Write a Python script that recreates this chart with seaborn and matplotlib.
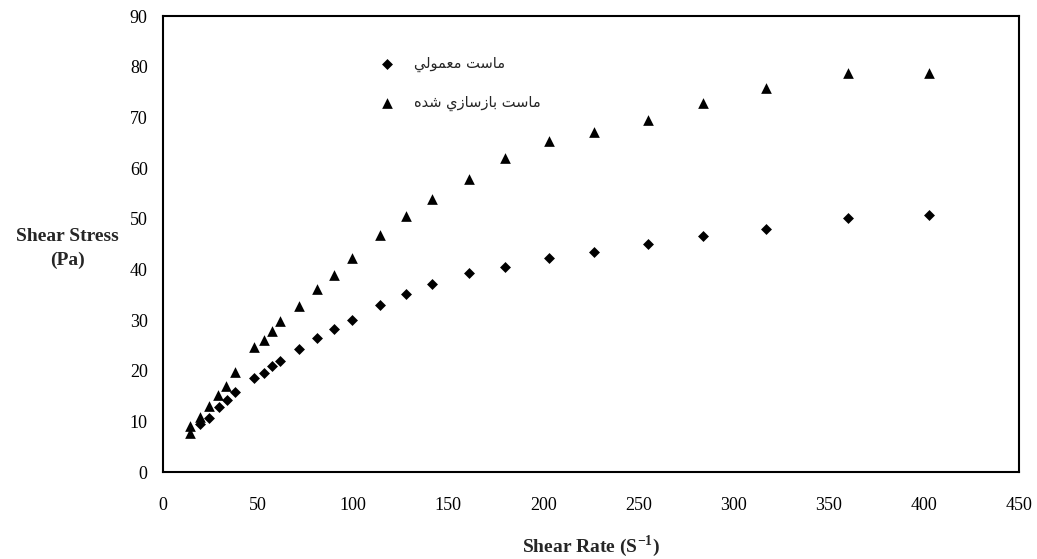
import matplotlib
matplotlib.use('Agg')
import matplotlib.pyplot as plt
import seaborn as sns
import pandas as pd

# Values
shear_rate_regular = [19.7, 24.0, 29.3, 33.6, 38.0, 47.8, 52.9, 57.4, 61.7, 71.5, 81.0, 89.7,
                      99.4, 113.9, 127.8, 141.4, 160.6, 179.6, 202.7, 226.8, 255.0, 283.9,
                      317.2, 360.1, 402.9]
stress_regular = [9.4, 10.7, 12.8, 14.3, 15.8, 18.6, 19.6, 21.0, 22.0, 24.3, 26.5, 28.3,
                  30.1, 32.9, 35.2, 37.1, 39.3, 40.4, 42.3, 43.5, 45.0, 46.5,
                  48.0, 50.2, 50.8]

shear_rate_recon = [14.4, 14.4, 19.7, 24.0, 28.9, 33.1, 38.0, 47.8, 52.9, 57.4, 61.7, 71.5,
                    81.0, 89.7, 99.4, 113.9, 127.8, 141.4, 160.6, 179.6, 202.7, 226.8,
                    255.0, 283.9, 317.2, 360.1, 402.9]
stress_recon = [7.7, 9.0, 10.9, 13.0, 15.2, 16.9, 19.7, 24.6, 26.0, 27.8, 29.8, 32.8,
                36.2, 38.9, 42.2, 46.8, 50.5, 53.8, 57.9, 62.0, 65.3, 67.1,
                69.5, 72.8, 75.8, 78.8, 78.8]

label_regular = 'ماست معمولي'
label_recon = 'ماست بازسازي شده'

x_ticks = [0, 50, 100, 150, 200, 250, 300, 350, 400, 450]
y_ticks = [0, 10, 20, 30, 40, 50, 60, 70, 80, 90]

# matplotlib does no Arabic shaping, so pick presentation forms by hand
# (isolated, final, initial, medial)
FORMS = {
    'ا': ('\uFE8D', '\uFE8E', None, None),
    'ب': ('\uFE8F', '\uFE90', '\uFE91', '\uFE92'),
    'ت': ('\uFE95', '\uFE96', '\uFE97', '\uFE98'),
    'د': ('\uFEA9', '\uFEAA', None, None),
    'ز': ('\uFEAF', '\uFEB0', None, None),
    'س': ('\uFEB1', '\uFEB2', '\uFEB3', '\uFEB4'),
    'ش': ('\uFEB5', '\uFEB6', '\uFEB7', '\uFEB8'),
    'ع': ('\uFEC9', '\uFECA', '\uFECB', '\uFECC'),
    'ل': ('\uFEDD', '\uFEDE', '\uFEDF', '\uFEE0'),
    'م': ('\uFEE1', '\uFEE2', '\uFEE3', '\uFEE4'),
    'ه': ('\uFEE9', '\uFEEA', '\uFEEB', '\uFEEC'),
    'و': ('\uFEED', '\uFEEE', None, None),
    'ي': ('\uFEF1', '\uFEF2', '\uFEF3', '\uFEF4'),
}


def shape_rtl(text):
    out = []
    for i, ch in enumerate(text):
        if ch not in FORMS:
            out.append(ch)
            continue
        prev = text[i - 1] if i > 0 else ''
        nxt = text[i + 1] if i + 1 < len(text) else ''
        join_prev = prev in FORMS and FORMS[prev][2] is not None
        join_next = nxt in FORMS and FORMS[ch][2] is not None
        if join_prev and join_next:
            out.append(FORMS[ch][3])
        elif join_prev:
            out.append(FORMS[ch][1])
        elif join_next:
            out.append(FORMS[ch][2])
        else:
            out.append(FORMS[ch][0])
    return ''.join(reversed(out))


sns.set_style('white')
plt.rcParams.update({
    'font.family': ['Liberation Serif', 'DejaVu Sans'],
    'mathtext.fontset': 'custom',
    'mathtext.rm': 'Liberation Serif',
    'mathtext.bf': 'Liberation Serif:bold',
    'axes.edgecolor': 'black',
    'axes.linewidth': 1.5,
})

DIAMOND_SIZE = 31
TRIANGLE_SIZE = 59

df_regular = pd.DataFrame({'rate': shear_rate_regular, 'stress': stress_regular})
df_recon = pd.DataFrame({'rate': shear_rate_recon, 'stress': stress_recon})

fig = plt.figure(figsize=(10.37, 5.59), dpi=100)
ax = fig.add_axes([0.1572, 0.1556, 0.8255, 0.8157])

sns.scatterplot(data=df_regular, x='rate', y='stress', marker='D', s=DIAMOND_SIZE,
                color='black', edgecolor='black', linewidth=0,
                label=shape_rtl(label_regular), ax=ax)
sns.scatterplot(data=df_recon, x='rate', y='stress', marker='^', s=TRIANGLE_SIZE,
                color='black', edgecolor='black', linewidth=0,
                label=shape_rtl(label_recon), ax=ax)

ax.set_xlim(0, 450)
ax.set_ylim(0, 90)
ax.set_xticks(x_ticks)
ax.set_yticks(y_ticks)
ax.tick_params(axis='both', direction='in', length=5, width=1.5,
               labelsize=13, colors='black')
ax.tick_params(axis='x', pad=18)
ax.tick_params(axis='y', pad=11)
for side in ['top', 'right', 'bottom', 'left']:
    ax.spines[side].set_visible(True)
    ax.spines[side].set_linewidth(1.5)

ax.set_xlabel(r'Shear Rate (S$^{\mathbf{-1}}$)', fontsize=14, fontweight='bold',
              labelpad=14)
ax.set_ylabel('Shear Stress\n(Pa)', fontsize=14, fontweight='bold', rotation=0,
              ha='center', va='center', linespacing=1.55)
ax.yaxis.set_label_coords(-0.112, 0.49)

leg = ax.legend(loc='center left', bbox_to_anchor=(0.245, 0.853), frameon=False,
                borderpad=0, handlelength=1.0, handletextpad=1.3,
                labelspacing=1.55, prop={'family': 'DejaVu Sans', 'size': 10.5})
for handle, size in zip(leg.legend_handles, [DIAMOND_SIZE, TRIANGLE_SIZE]):
    handle.set_sizes([size])

fig.savefig('out.png', dpi=100)
